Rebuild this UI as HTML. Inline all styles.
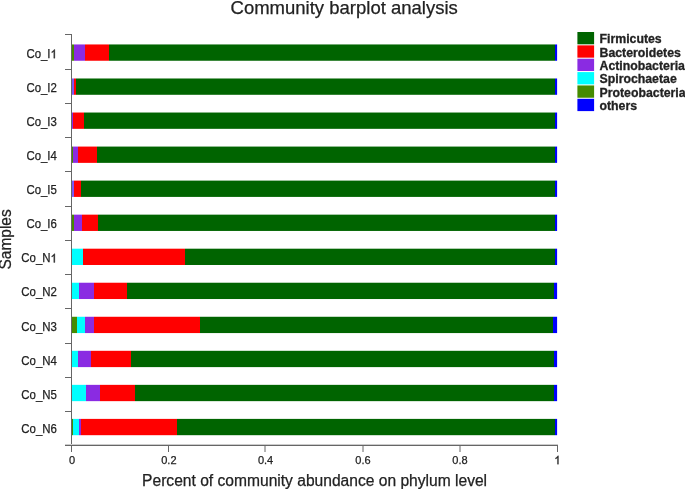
<!DOCTYPE html>
<html><head><meta charset="utf-8"><style>
html,body{margin:0;padding:0;background:#fff;}
body{width:685px;height:489px;overflow:hidden;}
svg{display:block;will-change:transform;font-family:"Liberation Sans",sans-serif;}
</style></head><body>
<svg width="685" height="489" viewBox="0 0 685 489">
<rect x="0" y="0" width="685" height="489" fill="#fff"/>
<text x="344.2" y="13.7" font-size="18.6" textLength="227.3" lengthAdjust="spacingAndGlyphs" fill="#222" stroke="#222" stroke-width="0.25" text-anchor="middle">Community barplot analysis</text>
<linearGradient id="g0" gradientUnits="userSpaceOnUse" x1="71.9" y1="0" x2="557.1" y2="0"><stop offset="0.00000" stop-color="#458B00"/><stop offset="0.00453" stop-color="#458B00"/><stop offset="0.00453" stop-color="#8A2BE2"/><stop offset="0.02679" stop-color="#8A2BE2"/><stop offset="0.02679" stop-color="#FF0000"/><stop offset="0.07749" stop-color="#FF0000"/><stop offset="0.07749" stop-color="#006400"/><stop offset="0.99567" stop-color="#006400"/><stop offset="0.99567" stop-color="#0000FF"/><stop offset="1.00000" stop-color="#0000FF"/></linearGradient><rect x="71.90" y="44.45" width="485.20" height="16.3" fill="url(#g0)"/>
<text x="50.54" y="58.20" font-size="12" textLength="24.15" lengthAdjust="spacingAndGlyphs" fill="#222" stroke="#222" stroke-width="0.25" text-anchor="end">Co_I</text><path d="M763 0L583 0L583 1147Q518 1085 412 1023Q306 961 221 930L221 1104Q372 1175 485 1276Q598 1377 645 1472L763 1472Z" transform="translate(50.54,58.20) scale(0.005584,-0.005859)" fill="#222" stroke="#222" stroke-width="59.7"/>
<linearGradient id="g1" gradientUnits="userSpaceOnUse" x1="71.9" y1="0" x2="557.1" y2="0"><stop offset="0.00000" stop-color="#7B58F2"/><stop offset="0.00453" stop-color="#7B58F2"/><stop offset="0.00453" stop-color="#FF0000"/><stop offset="0.00886" stop-color="#FF0000"/><stop offset="0.00886" stop-color="#006400"/><stop offset="0.99547" stop-color="#006400"/><stop offset="0.99547" stop-color="#0000FF"/><stop offset="1.00000" stop-color="#0000FF"/></linearGradient><rect x="71.90" y="78.49" width="485.20" height="16.3" fill="url(#g1)"/>
<text x="56.9" y="92.24" font-size="12" textLength="30.51" lengthAdjust="spacingAndGlyphs" fill="#222" stroke="#222" stroke-width="0.25" text-anchor="end">Co_I2</text>
<linearGradient id="g2" gradientUnits="userSpaceOnUse" x1="71.9" y1="0" x2="557.1" y2="0"><stop offset="0.00000" stop-color="#8A2BE2"/><stop offset="0.00289" stop-color="#8A2BE2"/><stop offset="0.00289" stop-color="#FF0000"/><stop offset="0.02411" stop-color="#FF0000"/><stop offset="0.02411" stop-color="#006400"/><stop offset="0.99567" stop-color="#006400"/><stop offset="0.99567" stop-color="#0000FF"/><stop offset="1.00000" stop-color="#0000FF"/></linearGradient><rect x="71.90" y="112.53" width="485.20" height="16.3" fill="url(#g2)"/>
<text x="56.9" y="126.28" font-size="12" textLength="30.51" lengthAdjust="spacingAndGlyphs" fill="#222" stroke="#222" stroke-width="0.25" text-anchor="end">Co_I3</text>
<linearGradient id="g3" gradientUnits="userSpaceOnUse" x1="71.9" y1="0" x2="557.1" y2="0"><stop offset="0.00000" stop-color="#458B00"/><stop offset="0.00247" stop-color="#458B00"/><stop offset="0.00247" stop-color="#8A2BE2"/><stop offset="0.01360" stop-color="#8A2BE2"/><stop offset="0.01360" stop-color="#FF0000"/><stop offset="0.05194" stop-color="#FF0000"/><stop offset="0.05194" stop-color="#006400"/><stop offset="0.99567" stop-color="#006400"/><stop offset="0.99567" stop-color="#0000FF"/><stop offset="1.00000" stop-color="#0000FF"/></linearGradient><rect x="71.90" y="146.57" width="485.20" height="16.3" fill="url(#g3)"/>
<text x="56.9" y="160.32" font-size="12" textLength="30.51" lengthAdjust="spacingAndGlyphs" fill="#222" stroke="#222" stroke-width="0.25" text-anchor="end">Co_I4</text>
<linearGradient id="g4" gradientUnits="userSpaceOnUse" x1="71.9" y1="0" x2="557.1" y2="0"><stop offset="0.00000" stop-color="#7B58F2"/><stop offset="0.00453" stop-color="#7B58F2"/><stop offset="0.00453" stop-color="#FF0000"/><stop offset="0.01876" stop-color="#FF0000"/><stop offset="0.01876" stop-color="#006400"/><stop offset="0.99567" stop-color="#006400"/><stop offset="0.99567" stop-color="#0000FF"/><stop offset="1.00000" stop-color="#0000FF"/></linearGradient><rect x="71.90" y="180.61" width="485.20" height="16.3" fill="url(#g4)"/>
<text x="56.9" y="194.36" font-size="12" textLength="30.51" lengthAdjust="spacingAndGlyphs" fill="#222" stroke="#222" stroke-width="0.25" text-anchor="end">Co_I5</text>
<linearGradient id="g5" gradientUnits="userSpaceOnUse" x1="71.9" y1="0" x2="557.1" y2="0"><stop offset="0.00000" stop-color="#458B00"/><stop offset="0.00453" stop-color="#458B00"/><stop offset="0.00453" stop-color="#8A2BE2"/><stop offset="0.02040" stop-color="#8A2BE2"/><stop offset="0.02040" stop-color="#FF0000"/><stop offset="0.05400" stop-color="#FF0000"/><stop offset="0.05400" stop-color="#006400"/><stop offset="0.99567" stop-color="#006400"/><stop offset="0.99567" stop-color="#0000FF"/><stop offset="1.00000" stop-color="#0000FF"/></linearGradient><rect x="71.90" y="214.65" width="485.20" height="16.3" fill="url(#g5)"/>
<text x="56.9" y="228.40" font-size="12" textLength="30.51" lengthAdjust="spacingAndGlyphs" fill="#222" stroke="#222" stroke-width="0.25" text-anchor="end">Co_I6</text>
<linearGradient id="g6" gradientUnits="userSpaceOnUse" x1="71.9" y1="0" x2="557.1" y2="0"><stop offset="0.00000" stop-color="#00FFFF"/><stop offset="0.02246" stop-color="#00FFFF"/><stop offset="0.02246" stop-color="#FF0000"/><stop offset="0.23269" stop-color="#FF0000"/><stop offset="0.23269" stop-color="#006400"/><stop offset="0.99588" stop-color="#006400"/><stop offset="0.99588" stop-color="#0000FF"/><stop offset="1.00000" stop-color="#0000FF"/></linearGradient><rect x="71.90" y="248.69" width="485.20" height="16.3" fill="url(#g6)"/>
<text x="50.54" y="262.44" font-size="12" textLength="29.23" lengthAdjust="spacingAndGlyphs" fill="#222" stroke="#222" stroke-width="0.25" text-anchor="end">Co_N</text><path d="M763 0L583 0L583 1147Q518 1085 412 1023Q306 961 221 930L221 1104Q372 1175 485 1276Q598 1377 645 1472L763 1472Z" transform="translate(50.54,262.44) scale(0.005584,-0.005859)" fill="#222" stroke="#222" stroke-width="59.7"/>
<linearGradient id="g7" gradientUnits="userSpaceOnUse" x1="71.9" y1="0" x2="557.1" y2="0"><stop offset="0.00000" stop-color="#00FFFF"/><stop offset="0.01566" stop-color="#00FFFF"/><stop offset="0.01566" stop-color="#8A2BE2"/><stop offset="0.04514" stop-color="#8A2BE2"/><stop offset="0.04514" stop-color="#FF0000"/><stop offset="0.11336" stop-color="#FF0000"/><stop offset="0.11336" stop-color="#006400"/><stop offset="0.99320" stop-color="#006400"/><stop offset="0.99320" stop-color="#0000FF"/><stop offset="1.00000" stop-color="#0000FF"/></linearGradient><rect x="71.90" y="282.73" width="485.20" height="16.3" fill="url(#g7)"/>
<text x="56.9" y="296.48" font-size="12" textLength="35.59" lengthAdjust="spacingAndGlyphs" fill="#222" stroke="#222" stroke-width="0.25" text-anchor="end">Co_N2</text>
<linearGradient id="g8" gradientUnits="userSpaceOnUse" x1="71.9" y1="0" x2="557.1" y2="0"><stop offset="0.00000" stop-color="#458B00"/><stop offset="0.01154" stop-color="#458B00"/><stop offset="0.01154" stop-color="#00FFFF"/><stop offset="0.02679" stop-color="#00FFFF"/><stop offset="0.02679" stop-color="#8A2BE2"/><stop offset="0.04534" stop-color="#8A2BE2"/><stop offset="0.04534" stop-color="#FF0000"/><stop offset="0.26412" stop-color="#FF0000"/><stop offset="0.26412" stop-color="#006400"/><stop offset="0.99155" stop-color="#006400"/><stop offset="0.99155" stop-color="#0000FF"/><stop offset="1.00000" stop-color="#0000FF"/></linearGradient><rect x="71.90" y="316.77" width="485.20" height="16.3" fill="url(#g8)"/>
<text x="56.9" y="330.52" font-size="12" textLength="35.59" lengthAdjust="spacingAndGlyphs" fill="#222" stroke="#222" stroke-width="0.25" text-anchor="end">Co_N3</text>
<linearGradient id="g9" gradientUnits="userSpaceOnUse" x1="71.9" y1="0" x2="557.1" y2="0"><stop offset="0.00000" stop-color="#00FFFF"/><stop offset="0.01195" stop-color="#00FFFF"/><stop offset="0.01195" stop-color="#8A2BE2"/><stop offset="0.03895" stop-color="#8A2BE2"/><stop offset="0.03895" stop-color="#FF0000"/><stop offset="0.12181" stop-color="#FF0000"/><stop offset="0.12181" stop-color="#006400"/><stop offset="0.99382" stop-color="#006400"/><stop offset="0.99382" stop-color="#0000FF"/><stop offset="1.00000" stop-color="#0000FF"/></linearGradient><rect x="71.90" y="350.81" width="485.20" height="16.3" fill="url(#g9)"/>
<text x="56.9" y="364.56" font-size="12" textLength="35.59" lengthAdjust="spacingAndGlyphs" fill="#222" stroke="#222" stroke-width="0.25" text-anchor="end">Co_N4</text>
<linearGradient id="g10" gradientUnits="userSpaceOnUse" x1="71.9" y1="0" x2="557.1" y2="0"><stop offset="0.00000" stop-color="#00FFFF"/><stop offset="0.02906" stop-color="#00FFFF"/><stop offset="0.02906" stop-color="#8A2BE2"/><stop offset="0.05771" stop-color="#8A2BE2"/><stop offset="0.05771" stop-color="#FF0000"/><stop offset="0.13026" stop-color="#FF0000"/><stop offset="0.13026" stop-color="#006400"/><stop offset="0.99382" stop-color="#006400"/><stop offset="0.99382" stop-color="#0000FF"/><stop offset="1.00000" stop-color="#0000FF"/></linearGradient><rect x="71.90" y="384.85" width="485.20" height="16.3" fill="url(#g10)"/>
<text x="56.9" y="398.60" font-size="12" textLength="35.59" lengthAdjust="spacingAndGlyphs" fill="#222" stroke="#222" stroke-width="0.25" text-anchor="end">Co_N5</text>
<linearGradient id="g11" gradientUnits="userSpaceOnUse" x1="71.9" y1="0" x2="557.1" y2="0"><stop offset="0.00000" stop-color="#458B00"/><stop offset="0.00289" stop-color="#458B00"/><stop offset="0.00289" stop-color="#00FFFF"/><stop offset="0.01401" stop-color="#00FFFF"/><stop offset="0.01401" stop-color="#8A2BE2"/><stop offset="0.01855" stop-color="#8A2BE2"/><stop offset="0.01855" stop-color="#FF0000"/><stop offset="0.21723" stop-color="#FF0000"/><stop offset="0.21723" stop-color="#006400"/><stop offset="0.99567" stop-color="#006400"/><stop offset="0.99567" stop-color="#0000FF"/><stop offset="1.00000" stop-color="#0000FF"/></linearGradient><rect x="71.90" y="418.89" width="485.20" height="16.3" fill="url(#g11)"/>
<text x="56.9" y="432.64" font-size="12" textLength="35.59" lengthAdjust="spacingAndGlyphs" fill="#222" stroke="#222" stroke-width="0.25" text-anchor="end">Co_N6</text>
<g fill="#666" shape-rendering="crispEdges"><rect x="71" y="34" width="1" height="418"/><rect x="65" y="34" width="6" height="1"/><rect x="65" y="69" width="6" height="1"/><rect x="65" y="103" width="6" height="1"/><rect x="65" y="137" width="6" height="1"/><rect x="65" y="171" width="6" height="1"/><rect x="65" y="206" width="6" height="1"/><rect x="65" y="240" width="6" height="1"/><rect x="65" y="274" width="6" height="1"/><rect x="65" y="308" width="6" height="1"/><rect x="65" y="343" width="6" height="1"/><rect x="65" y="377" width="6" height="1"/><rect x="65" y="411" width="6" height="1"/><rect x="65" y="445" width="6" height="1"/><rect x="71" y="445" width="487" height="1"/></g>
<rect x="65" y="444" width="493" height="1" fill="#ccc"/>
<g stroke="#666" stroke-width="1" fill="none"><line x1="168.50" y1="445" x2="168.50" y2="452"/><line x1="265.00" y1="445" x2="265.00" y2="452"/><line x1="363.00" y1="445" x2="363.00" y2="452"/><line x1="460.00" y1="445" x2="460.00" y2="452"/><line x1="557.50" y1="445" x2="557.50" y2="452"/></g>
<text x="72.00" y="464.2" font-size="11.6" textLength="6.13" lengthAdjust="spacingAndGlyphs" fill="#222" stroke="#222" stroke-width="0.25" text-anchor="middle">0</text><text x="168.90" y="464.2" font-size="11.6" textLength="15.32" lengthAdjust="spacingAndGlyphs" fill="#222" stroke="#222" stroke-width="0.25" text-anchor="middle">0.2</text><text x="265.60" y="464.2" font-size="11.6" textLength="15.32" lengthAdjust="spacingAndGlyphs" fill="#222" stroke="#222" stroke-width="0.25" text-anchor="middle">0.4</text><text x="363.00" y="464.2" font-size="11.6" textLength="15.32" lengthAdjust="spacingAndGlyphs" fill="#222" stroke="#222" stroke-width="0.25" text-anchor="middle">0.6</text><text x="460.00" y="464.2" font-size="11.6" textLength="15.32" lengthAdjust="spacingAndGlyphs" fill="#222" stroke="#222" stroke-width="0.25" text-anchor="middle">0.8</text><path d="M763 0L583 0L583 1147Q518 1085 412 1023Q306 961 221 930L221 1104Q372 1175 485 1276Q598 1377 645 1472L763 1472Z" transform="translate(554.34,464.20) scale(0.005381,-0.005664)" fill="#222" stroke="#222" stroke-width="61.8"/>
<text x="314.6" y="485.8" font-size="15.6" fill="#222" stroke="#222" stroke-width="0.25" text-anchor="middle">Percent of community abundance on phylum level</text>
<text transform="translate(11.2,239.4) rotate(-90)" x="0" y="0" font-size="15.7" textLength="60.1" lengthAdjust="spacingAndGlyphs" fill="#222" stroke="#222" stroke-width="0.25" text-anchor="middle">Samples</text>
<rect x="577.4" y="32.00" width="16.7" height="12.3" fill="#006400"/><text x="599.5" y="43.40" font-size="12.3" font-weight="bold" fill="#222" stroke="#222" stroke-width="0.3">Firmicutes</text>
<rect x="577.4" y="45.36" width="16.7" height="12.3" fill="#FF0000"/><text x="599.5" y="56.76" font-size="12.3" font-weight="bold" fill="#222" stroke="#222" stroke-width="0.3">Bacteroidetes</text>
<rect x="577.4" y="58.72" width="16.7" height="12.3" fill="#8A2BE2"/><text x="599.5" y="70.12" font-size="12.3" font-weight="bold" fill="#222" stroke="#222" stroke-width="0.3">Actinobacteria</text>
<rect x="577.4" y="72.08" width="16.7" height="12.3" fill="#00FFFF"/><text x="599.5" y="83.48" font-size="12.3" font-weight="bold" fill="#222" stroke="#222" stroke-width="0.3">Spirochaetae</text>
<rect x="577.4" y="85.44" width="16.7" height="12.3" fill="#458B00"/><text x="599.5" y="96.84" font-size="12.3" font-weight="bold" fill="#222" stroke="#222" stroke-width="0.3">Proteobacteria</text>
<rect x="577.4" y="98.80" width="16.7" height="12.3" fill="#0000FF"/><text x="599.5" y="110.20" font-size="12.3" font-weight="bold" fill="#222" stroke="#222" stroke-width="0.3">others</text>
</svg>
</body></html>
